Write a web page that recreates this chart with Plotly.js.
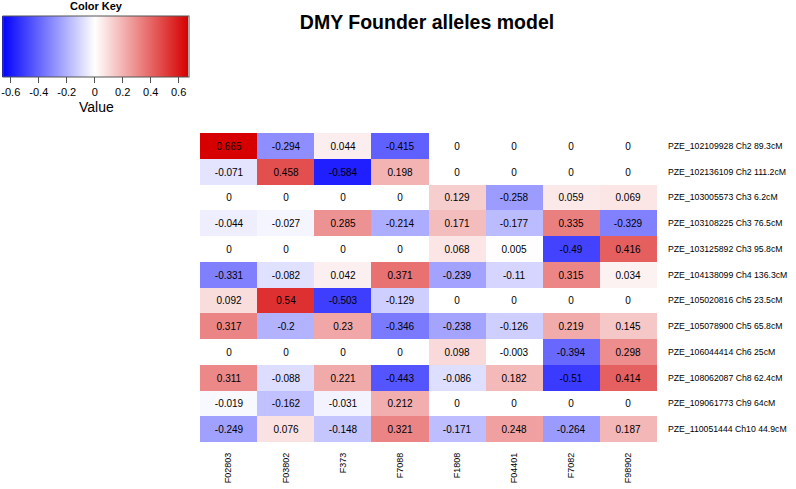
<!DOCTYPE html>
<html>
<head>
<meta charset="utf-8">
<script src="https://cdn.plot.ly/plotly-3.0.1.min.js"></script>
<style>html,body{margin:0;padding:0;background:#fff;}#chart{width:796px;height:489px;}</style>
</head>
<body>
<div id="chart"></div>
<script>
const founders = ["F02803","F03802","F373","F7088","F1808","F04401","F7082","F98902"];
const markers = [
  "PZE_102109928 Ch2 89.3cM",
  "PZE_102136109 Ch2 111.2cM",
  "PZE_103005573 Ch3 6.2cM",
  "PZE_103108225 Ch3 76.5cM",
  "PZE_103125892 Ch3 95.8cM",
  "PZE_104138099 Ch4 136.3cM",
  "PZE_105020816 Ch5 23.5cM",
  "PZE_105078900 Ch5 65.8cM",
  "PZE_106044414 Ch6 25cM",
  "PZE_108062087 Ch8 62.4cM",
  "PZE_109061773 Ch9 64cM",
  "PZE_110051444 Ch10 44.9cM"
];
const row1  = [0.665, -0.294, 0.044, -0.415, 0, 0, 0, 0];
const row2  = [-0.071, 0.458, -0.584, 0.198, 0, 0, 0, 0];
const row3  = [0, 0, 0, 0, 0.129, -0.258, 0.059, 0.069];
const row4  = [-0.044, -0.027, 0.285, -0.214, 0.171, -0.177, 0.335, -0.329];
const row5  = [0, 0, 0, 0, 0.068, 0.005, -0.49, 0.416];
const row6  = [-0.331, -0.082, 0.042, 0.371, -0.239, -0.11, 0.315, 0.034];
const row7  = [0.092, 0.54, -0.503, -0.129, 0, 0, 0, 0];
const row8  = [0.317, -0.2, 0.23, -0.346, -0.238, -0.126, 0.219, 0.145];
const row9  = [0, 0, 0, 0, 0.098, -0.003, -0.394, 0.298];
const row10 = [0.311, -0.088, 0.221, -0.443, -0.086, 0.182, -0.51, 0.414];
const row11 = [-0.019, -0.162, -0.031, 0.212, 0, 0, 0, 0];
const row12 = [-0.249, 0.076, -0.148, 0.321, -0.171, 0.248, -0.264, 0.187];
const keyTicks = [-0.6, -0.4, -0.2, 0, 0.2, 0.4, 0.6];
const keyTickText = ["-0.6", "-0.4", "-0.2", "0", "0.2", "0.4", "0.6"];

const z = [row1,row2,row3,row4,row5,row6,row7,row8,row9,row10,row11,row12];
const txt = z.map(r => r.map(v => String(v)));
const F = "Liberation Sans, Arial, Helvetica, sans-serif";

const W = 796, H = 489;
const M = {l: 200, r: 139, t: 133, b: 47};
const pw = W - M.l - M.r, ph = H - M.t - M.b;
const px2x = px => (px - M.l) / pw;
const py2y = py => (H - M.b - py) / ph;

const trace = {
  type: "heatmap",
  x: founders,
  y: markers,
  z: z,
  text: txt,
  texttemplate: "%{text}",
  textfont: {family: F, size: 10, color: "#000"},
  zmin: -0.665, zmax: 0.665,
  colorscale: [[0, "rgb(0,0,255)"], [0.5, "rgb(255,255,255)"], [1, "rgb(214,0,0)"]],
  hoverinfo: "x+y+z",
  colorbar: {
    orientation: "h",
    xref: "container", yref: "container",
    x: 3/W, xanchor: "left",
    y: 1 - 16/H, yanchor: "top",
    len: 186, lenmode: "pixels",
    thickness: 61, thicknessmode: "pixels",
    xpad: 0, ypad: 0,
    outlinewidth: 1, outlinecolor: "#555",
    ticks: "outside", ticklen: 6, tickcolor: "#555",
    tickvals: keyTicks, ticktext: keyTickText,
    tickfont: {family: F, size: 11, color: "#000"}
  }
};

const layout = {
  width: W, height: H,
  margin: {l: M.l, r: M.r, t: M.t, b: M.b, autoexpand: false},
  paper_bgcolor: "#fff", plot_bgcolor: "#fff",
  font: {family: F, color: "#000"},
  title: {text: "<b>DMY Founder alleles model</b>", font: {family: F, size: 19.5, color: "#000"},
          x: 427/W, xanchor: "center", y: 1 - 22/H, yanchor: "middle"},
  xaxis: {type: "category", showgrid: false, zeroline: false, showline: false, ticks: "",
          tickangle: -90, tickfont: {family: F, size: 9, color: "#000"}, ticklabelstandoff: 8},
  yaxis: {type: "category", autorange: "reversed", side: "right", showgrid: false, zeroline: false,
          showline: false, ticks: "", tickfont: {family: F, size: 8.7, color: "#000"}, ticklabelstandoff: 10},
  annotations: [
    {text: "<b>Color Key</b>", xref: "paper", yref: "paper", showarrow: false,
     x: px2x(96), y: py2y(6), xanchor: "center", yanchor: "middle",
     font: {family: F, size: 11, color: "#000"}},
    {text: "Value", xref: "paper", yref: "paper", showarrow: false,
     x: px2x(96), y: py2y(107), xanchor: "center", yanchor: "middle",
     font: {family: F, size: 14, color: "#000"}}
  ]
};

Plotly.newPlot("chart", [trace], layout, {displayModeBar: false, staticPlot: true});
</script>
</body>
</html>
